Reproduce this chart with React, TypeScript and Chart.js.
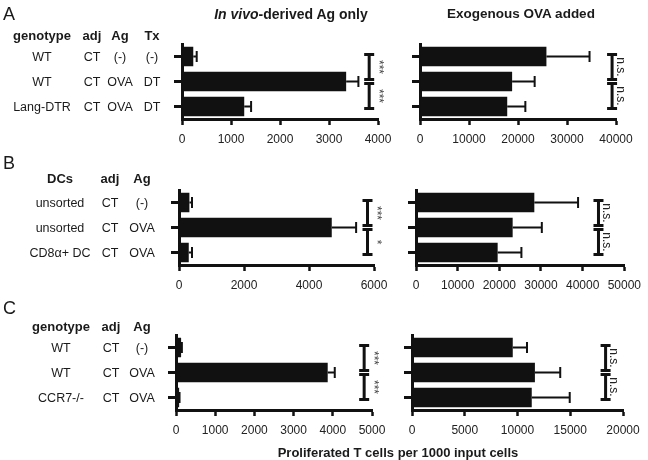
import React, { useEffect, useRef } from 'react';
import { Chart, registerables } from 'chart.js';

Chart.register(...registerables);

const FONT = '"Liberation Sans", Arial, Helvetica, sans-serif';
const INK = '#111111';

// ---------- data ----------
const rowKeys = ['row1', 'row2', 'row3'];

// Panel A
const aLeftValues = [230, 3350, 1270];
const aLeftErrors = [70, 250, 140];
const aLeftTicks = [0, 1000, 2000, 3000, 4000];
const aLeftSig = ['***', '***'];
const aLeftBracket = 3820;

const aRightValues = [25800, 18800, 17800];
const aRightErrors = [8800, 4600, 3700];
const aRightTicks = [0, 10000, 20000, 30000, 40000];
const aRightSig = ['n.s.', 'n.s.'];
const aRightBracket = 39200;

// Panel B
const bLeftValues = [320, 4700, 300];
const bLeftErrors = [80, 750, 100];
const bLeftTicks = [0, 2000, 4000, 6000];
const bLeftSig = ['***', '*'];
const bLeftBracket = 5800;

const bRightValues = [28400, 23200, 19600];
const bRightErrors = [10500, 7000, 5700];
const bRightTicks = [0, 10000, 20000, 30000, 40000, 50000];
const bRightSig = ['n.s.', 'n.s.'];
const bRightBracket = 43800;

// Panel C
const cLeftValues = [130, 3870, 80];
const cLeftErrors = [20, 180, 10];
const cLeftTicks = [0, 1000, 2000, 3000, 4000, 5000];
const cLeftSig = ['***', '***'];
const cLeftBracket = 4800;

const cRightValues = [9550, 11650, 11350];
const cRightErrors = [1350, 2400, 3600];
const cRightTicks = [0, 5000, 10000, 15000, 20000];
const cRightSig = ['n.s.', 'n.s.'];
const cRightBracket = 18350;

// text tables
const panelLetters = ['A', 'B', 'C'];
const titleLeftItalic = 'In vivo';
const titleLeftRest = '-derived Ag only';
const titleRight = 'Exogenous OVA added';
const xAxisTitle = 'Proliferated T cells per 1000 input cells';

const headerA = ['genotype', 'adj', 'Ag', 'Tx'];
const rowsA = [
  ['WT', 'CT', '(-)', '(-)'],
  ['WT', 'CT', 'OVA', 'DT'],
  ['Lang-DTR', 'CT', 'OVA', 'DT'],
];
const headerB = ['DCs', 'adj', 'Ag'];
const rowsB = [
  ['unsorted', 'CT', '(-)'],
  ['unsorted', 'CT', 'OVA'],
  ['CD8\u03b1+ DC', 'CT', 'OVA'],
];
const headerC = ['genotype', 'adj', 'Ag'];
const rowsC = [
  ['WT', 'CT', '(-)'],
  ['WT', 'CT', 'OVA'],
  ['CCR7-/-', 'CT', 'OVA'],
];

// ---------- layout ----------
const W = 648;
const H = 460;
const Y_AXIS_W = 10;
const X_AXIS_H = 34;

type Area = { l: number; r: number; t: number; b: number };
const areaA = { t: 44, b: 119 };
const areaB = { t: 190, b: 265 };
const areaC = { t: 335, b: 410 };

const panels = [
  { values: aLeftValues, errors: aLeftErrors, ticks: aLeftTicks, sig: aLeftSig, bracket: aLeftBracket, area: { l: 182, r: 378, ...areaA } },
  { values: aRightValues, errors: aRightErrors, ticks: aRightTicks, sig: aRightSig, bracket: aRightBracket, area: { l: 420, r: 616, ...areaA } },
  { values: bLeftValues, errors: bLeftErrors, ticks: bLeftTicks, sig: bLeftSig, bracket: bLeftBracket, area: { l: 179, r: 374, ...areaB } },
  { values: bRightValues, errors: bRightErrors, ticks: bRightTicks, sig: bRightSig, bracket: bRightBracket, area: { l: 416, r: 627, ...areaB } },
  { values: cLeftValues, errors: cLeftErrors, ticks: cLeftTicks, sig: cLeftSig, bracket: cLeftBracket, area: { l: 176, r: 372, ...areaC } },
  { values: cRightValues, errors: cRightErrors, ticks: cRightTicks, sig: cRightSig, bracket: cRightBracket, area: { l: 412, r: 623, ...areaC } },
];

function annotPlugin(errors: number[], sig: string[], bracket: number) {
  return {
    id: 'annot',
    afterDatasetsDraw(chart: any) {
      const ctx = chart.ctx as CanvasRenderingContext2D;
      const xs = chart.scales.x;
      const ys = chart.scales.y;
      const data = chart.data.datasets[0].data as number[];
      ctx.save();
      ctx.strokeStyle = INK;
      ctx.lineWidth = 2;
      ctx.lineCap = 'butt';
      data.forEach((v, i) => {
        const yc = ys.getPixelForValue(i);
        const x0 = xs.getPixelForValue(v);
        const x1 = xs.getPixelForValue(v + errors[i]);
        ctx.beginPath();
        ctx.moveTo(x0, yc);
        ctx.lineTo(x1, yc);
        ctx.moveTo(x1, yc - 5.5);
        ctx.lineTo(x1, yc + 5.5);
        ctx.stroke();
      });
      const rows = [0, 1, 2].map((i) => ys.getPixelForValue(i));
      const bx = xs.getPixelForValue(bracket);
      const segs = [
        [rows[0] - 2, rows[1] - 2],
        [rows[1] + 2, rows[2] + 2],
      ];
      ctx.lineWidth = 3;
      segs.forEach(([t, b], k) => {
        ctx.beginPath();
        ctx.moveTo(bx, t);
        ctx.lineTo(bx, b);
        ctx.moveTo(bx - 5, t);
        ctx.lineTo(bx + 5, t);
        ctx.moveTo(bx - 5, b);
        ctx.lineTo(bx + 5, b);
        ctx.stroke();
        const s = sig[k];
        const isNs = s.indexOf('n') >= 0;
        ctx.save();
        ctx.translate(bx + (isNs ? 8 : 9), (t + b) / 2);
        ctx.rotate(Math.PI / 2);
        ctx.textAlign = 'center';
        ctx.textBaseline = 'middle';
        ctx.fillStyle = isNs ? '#222' : '#444';
        ctx.font = isNs ? `12px ${FONT}` : `12px ${FONT}`;
        ctx.fillText(s, 0, 0);
        ctx.restore();
      });
      ctx.restore();
    },
  };
}

function makeConfig(p: (typeof panels)[number]): any {
  const a: Area = p.area;
  const tickVals = p.ticks;
  return {
    type: 'bar',
    data: {
      labels: rowKeys,
      datasets: [
        {
          data: p.values,
          backgroundColor: INK,
          borderWidth: 0,
          categoryPercentage: 1,
          barPercentage: 0.78,
        },
      ],
    },
    options: {
      indexAxis: 'y',
      responsive: false,
      animation: false,
      events: [],
      layout: {
        padding: {
          left: a.l - Y_AXIS_W,
          right: W - a.r,
          top: a.t,
          bottom: H - a.b - X_AXIS_H,
        },
      },
      plugins: { legend: { display: false }, tooltip: { enabled: false }, title: { display: false } },
      scales: {
        x: {
          type: 'linear',
          min: tickVals[0],
          max: tickVals[tickVals.length - 1],
          afterBuildTicks: (s: any) => {
            s.ticks = tickVals.map((v) => ({ value: v }));
          },
          afterFit: (s: any) => {
            s.height = X_AXIS_H;
          },
          border: { display: true, color: INK, width: 3 },
          grid: {
            drawOnChartArea: false,
            drawTicks: true,
            tickLength: 6,
            tickWidth: 2.5,
            tickColor: INK,
            color: INK,
          },
          ticks: {
            padding: 7,
            color: '#222',
            font: { family: FONT, size: 12 },
            maxRotation: 0,
            autoSkip: false,
            callback: (v: number) => String(v),
          },
        },
        y: {
          type: 'category',
          offset: true,
          afterFit: (s: any) => {
            s.width = Y_AXIS_W;
          },
          border: { display: true, color: INK, width: 3 },
          grid: {
            offset: false,
            drawOnChartArea: false,
            drawTicks: true,
            tickLength: 8,
            tickWidth: 3,
            tickColor: INK,
            color: INK,
          },
          ticks: { display: false },
        },
      },
    },
    plugins: [annotPlugin(p.errors, p.sig, p.bracket)],
  };
}

// label column centres and row positions
const colsA = [42, 92, 120, 152];
const colsB = [60, 110, 142];
const colsC = [61, 111, 142];

function rowCenters(t: number, b: number) {
  const step = (b - t) / 3;
  return [t + step / 2, t + step * 1.5, t + step * 2.5];
}

const Txt: React.FC<{ x: number; y: number; size?: number; bold?: boolean; children: React.ReactNode }> = ({
  x,
  y,
  size = 12.5,
  bold = false,
  children,
}) => (
  <div
    style={{
      position: 'absolute',
      left: x,
      top: y,
      transform: 'translate(-50%, -50%)',
      whiteSpace: 'nowrap',
      fontSize: size,
      fontWeight: bold ? 700 : 400,
      lineHeight: 1,
      fontFamily: FONT,
      color: '#1a1a1a',
    }}
  >
    {children}
  </div>
);

function Table(props: { header: string[]; rows: string[][]; cols: number[]; headerY: number; area: { t: number; b: number } }) {
  const ys = rowCenters(props.area.t, props.area.b);
  return (
    <>
      {props.header.map((h, i) => (
        <Txt key={'h' + i} x={props.cols[i]} y={props.headerY} bold size={13}>
          {h}
        </Txt>
      ))}
      {props.rows.map((r, ri) =>
        r.map((c, ci) => (
          <Txt key={ri + '-' + ci} x={props.cols[ci]} y={ys[ri]}>
            {c}
          </Txt>
        ))
      )}
    </>
  );
}

const letterStyle = (top: number): React.CSSProperties => ({
  position: 'absolute',
  left: 3,
  top,
  transform: 'translateY(-50%)',
  fontSize: 18,
  lineHeight: 1,
  fontFamily: FONT,
  color: '#1a1a1a',
});

export default function App() {
  const refs = useRef<(HTMLCanvasElement | null)[]>([]);

  useEffect(() => {
    const charts = panels.map((p, i) => new Chart(refs.current[i] as HTMLCanvasElement, makeConfig(p)));
    return () => charts.forEach((c) => c.destroy());
  }, []);

  return (
    <div style={{ position: 'absolute', left: 0, top: 0, width: W, height: H, background: '#fff', overflow: 'hidden' }}>
      {panels.map((_, i) => (
        <canvas
          key={i}
          ref={(el) => {
            refs.current[i] = el;
          }}
          width={W}
          height={H}
          style={{ position: 'absolute', left: 0, top: 0, width: W, height: H }}
        />
      ))}
      <div style={letterStyle(14)}>{panelLetters[0]}</div>
      <div style={letterStyle(163)}>{panelLetters[1]}</div>
      <div style={letterStyle(308)}>{panelLetters[2]}</div>
      <Txt x={291} y={14} bold size={14}>
        <span style={{ fontStyle: 'italic' }}>{titleLeftItalic}</span>
        {titleLeftRest}
      </Txt>
      <Txt x={521} y={14} bold size={13.5}>
        {titleRight}
      </Txt>
      <Table header={headerA} rows={rowsA} cols={colsA} headerY={35} area={areaA} />
      <Table header={headerB} rows={rowsB} cols={colsB} headerY={178} area={areaB} />
      <Table header={headerC} rows={rowsC} cols={colsC} headerY={326} area={areaC} />
      <Txt x={398} y={452} bold size={13}>
        {xAxisTitle}
      </Txt>
    </div>
  );
}
